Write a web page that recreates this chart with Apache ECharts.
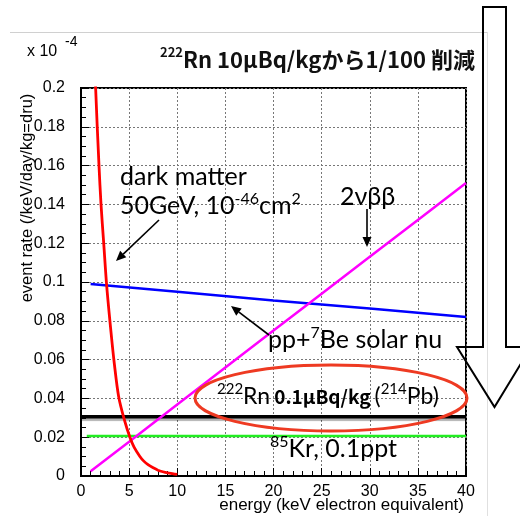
<!DOCTYPE html>
<html><head><meta charset="utf-8">
<script src="https://cdn.jsdelivr.net/npm/echarts@6/dist/echarts.min.js"></script>
<style>html,body{margin:0;padding:0;background:#fff}#c{width:520px;height:516px}</style>
</head><body><div id="c"></div>
<script>
// ---- data (energy in keV, rate in 1e-4 /keV/day/kg) ----
const darkMatterE    = [1.2, 1.52, 1.87, 2.08, 2.36, 2.67, 3.12, 3.46, 3.91, 4.5, 5.09, 5.5, 6.1, 6.5, 7, 7.5, 8, 8.5, 9, 9.5, 10];
const darkMatterRate = [0.25, 0.2, 0.16, 0.14, 0.12, 0.098, 0.074, 0.058, 0.041, 0.029, 0.0198, 0.015, 0.0102, 0.0078, 0.0057, 0.0042, 0.003, 0.0022, 0.0016, 0.0012, 0.0008];
const doubleBetaE    = [1, 5, 10, 15, 20, 25, 30, 35, 40];
const doubleBetaRate = [0.0025, 0.0177, 0.0368, 0.0559, 0.075, 0.094, 0.113, 0.132, 0.151];
const solarNuE       = [1, 10, 20, 30, 40];
const solarNuRate    = [0.099, 0.095, 0.0905, 0.0863, 0.082];
const radonE         = [0, 40];
const radonRate      = [0.0306, 0.0306];
const kryptonE       = [0.6, 40];
const kryptonRate    = [0.0206, 0.0206];
const xTicks = [0, 5, 10, 15, 20, 25, 30, 35, 40];
const yTicks = [0, 0.02, 0.04, 0.06, 0.08, 0.1, 0.12, 0.14, 0.16, 0.18, 0.2];

const zip = (a, b) => a.map((v, i) => [v, b[i]]);
const chart = echarts.init(document.getElementById('c'), null, {renderer: 'canvas'});

const LAT = 'Liberation Sans';
const CAL = 'Lato';
const CJK = 'Noto Sans CJK JP';

function arrow(x1, y1, x2, y2) {
  const ang = Math.atan2(y2 - y1, x2 - x1);
  const L = 10, W = 4.5;
  const bx = x2 - L * Math.cos(ang), by = y2 - L * Math.sin(ang);
  const px = -Math.sin(ang) * W, py = Math.cos(ang) * W;
  return [
    {type: 'line', z: 50, shape: {x1, y1, x2: bx, y2: by}, style: {stroke: '#000', lineWidth: 1.6}},
    {type: 'polygon', z: 50, shape: {points: [[x2, y2], [bx + px, by + py], [bx - px, by - py]]}, style: {fill: '#000'}}
  ];
}

const supRich = {
  n: {fontFamily: CAL, fontSize: 25, lineHeight: 30, verticalAlign: 'middle', fill: '#000'},
  s: {fontFamily: CAL, fontSize: 16, lineHeight: 16, verticalAlign: 'top', fill: '#000'},
  b: {fontFamily: CJK, fontSize: 19, fontWeight: 'bold', lineHeight: 30, verticalAlign: 'middle', fill: '#000'}
};
const rnRich = {
  n: {fontFamily: CAL, fontSize: 23, lineHeight: 30, verticalAlign: 'middle', fill: '#000'},
  s: {fontFamily: CAL, fontSize: 15, lineHeight: 15, verticalAlign: 'top', fill: '#000'},
  b: {fontFamily: CJK, fontSize: 19, fontWeight: 'bold', lineHeight: 30, verticalAlign: 'middle', fill: '#000', padding: [0, 4, 0, 4]}
};

const option = {
  animation: false,
  backgroundColor: '#fff',
  grid: {left: 81, right: 54, top: 88, bottom: 40, show: true, borderColor: '#000', borderWidth: 2, backgroundColor: 'transparent'},
  xAxis: {
    type: 'value', min: xTicks[0], max: xTicks[xTicks.length - 1], interval: 5,
    axisLine: {show: true, onZero: false, lineStyle: {color: '#000', width: 2}},
    axisTick: {show: true, inside: true, length: 8, lineStyle: {color: '#000', width: 1}},
    minorTick: {show: true, splitNumber: 5, length: 5, lineStyle: {color: '#000', width: 1}},
    splitLine: {show: true, lineStyle: {color: '#777', type: [2, 2], width: 1}},
    axisLabel: {fontFamily: LAT, fontSize: 16, color: '#000', margin: 8}
  },
  yAxis: {
    type: 'value', min: yTicks[0], max: yTicks[yTicks.length - 1], interval: 0.02,
    axisLine: {show: true, onZero: false, lineStyle: {color: '#000', width: 2}},
    axisTick: {show: true, inside: true, length: 8, lineStyle: {color: '#000', width: 1}},
    minorTick: {show: true, splitNumber: 4, length: 5, lineStyle: {color: '#000', width: 1}},
    splitLine: {show: true, lineStyle: {color: '#777', type: [2, 2], width: 1}},
    axisLabel: {fontFamily: LAT, fontSize: 16, color: '#000', margin: 16, formatter: v => String(+v.toFixed(2))}
  },
  series: [
    {type: 'line', name: '85Kr', data: zip(kryptonE, kryptonRate), symbol: 'none', lineStyle: {color: '#22ee22', width: 2.5}},
    {type: 'line', name: '222Rn', data: zip(radonE, radonRate), symbol: 'none',
      lineStyle: {color: '#000', width: 3.5, shadowColor: 'rgba(0,0,0,0.3)', shadowBlur: 1, shadowOffsetY: 2.5}},
    {type: 'line', name: 'solar', data: zip(solarNuE, solarNuRate), symbol: 'none', lineStyle: {color: '#0000ff', width: 2.5}},
    {type: 'line', name: '2vbb', data: zip(doubleBetaE, doubleBetaRate), symbol: 'none', lineStyle: {color: '#ff00ff', width: 2.5}},
    {type: 'line', name: 'dm', data: zip(darkMatterE, darkMatterRate), symbol: 'none', smooth: 0.3, clip: true,
      lineStyle: {color: '#ff0000', width: 2.8}}
  ],
  graphic: [
    // slide frame lines
    {type: 'line', z: 1, shape: {x1: 10, y1: 32.5, x2: 488, y2: 32.5}, style: {stroke: '#d0d0d0', lineWidth: 1}},
    {type: 'line', z: 1, shape: {x1: 487.5, y1: 32, x2: 487.5, y2: 516}, style: {stroke: '#e0e0e0', lineWidth: 1}},
    // exponent
    {type: 'text', z: 50, x: 27, y: 52, style: {text: 'x 10', fontFamily: LAT, fontSize: 16, fill: '#000', verticalAlign: 'middle'}},
    {type: 'text', z: 50, x: 65, y: 42, style: {text: '-4', fontFamily: LAT, fontSize: 14, fill: '#000', verticalAlign: 'middle'}},
    // title
    {type: 'text', z: 50, x: 160, y: 60, style: {
      text: '{s|222}{t|Rn 10μBq/kgから1/100 削減}', verticalAlign: 'middle',
      rich: {
        t: {fontFamily: CJK, fontSize: 22, fontWeight: 'bold', lineHeight: 28, verticalAlign: 'middle', fill: '#111'},
        s: {fontFamily: CJK, fontSize: 13, fontWeight: 'bold', lineHeight: 13, verticalAlign: 'top', fill: '#111'}
      }}},
    // y axis name
    {type: 'text', z: 50, x: 27, y: 198, rotation: Math.PI / 2, style: {
      text: 'event rate (/keV/day/kg=dru)', fontFamily: LAT, fontSize: 16.5, fill: '#000', align: 'center', verticalAlign: 'middle'}},
    // x axis name
    {type: 'text', z: 50, x: 464, y: 505, style: {
      text: 'energy (keV electron equivalent)', fontFamily: LAT, fontSize: 17, fill: '#000', align: 'right', verticalAlign: 'middle'}},
    // annotations
    {type: 'text', z: 50, x: 120, y: 177, style: {text: 'dark matter', fontFamily: CAL, fontSize: 25, fill: '#000', verticalAlign: 'middle'}},
    {type: 'text', z: 50, x: 120, y: 206, style: {text: '{n|50GeV, 10}{s|-46}{n|cm}{s|2}', verticalAlign: 'middle', rich: supRich}},
    ...arrow(159, 220, 116, 261),
    {type: 'text', z: 50, x: 340, y: 197, style: {text: '2νββ', fontFamily: CAL, fontSize: 25, fill: '#000', verticalAlign: 'middle'}},
    ...arrow(367, 209, 367, 247),
    {type: 'text', z: 50, x: 268, y: 340, style: {text: '{n|pp+}{s|7}{n|Be solar nu}', verticalAlign: 'middle', rich: supRich}},
    ...arrow(269, 335, 231, 306),
    {type: 'text', z: 50, x: 217, y: 397, style: {text: '{s|222}{n|Rn}{b|0.1μBq/kg}{n|(}{s|214}{n|Pb)}', verticalAlign: 'middle', rich: rnRich}},
    {type: 'ellipse', z: 49, shape: {cx: 331, cy: 398, rx: 136, ry: 33}, style: {fill: 'none', stroke: '#ee3a22', lineWidth: 3}},
    {type: 'text', z: 50, x: 270, y: 449, style: {text: '{s|85}{n|Kr, 0.1ppt}', verticalAlign: 'middle', rich: supRich}},
    // big down arrow
    {type: 'polygon', z: 60, shape: {points: [[483, 7], [506, 7], [506, 347], [531, 347], [494.5, 407], [457, 347], [483, 347]]},
      style: {fill: 'none', stroke: '#000', lineWidth: 2}}
  ]
};
chart.setOption(option);
</script></body></html>
